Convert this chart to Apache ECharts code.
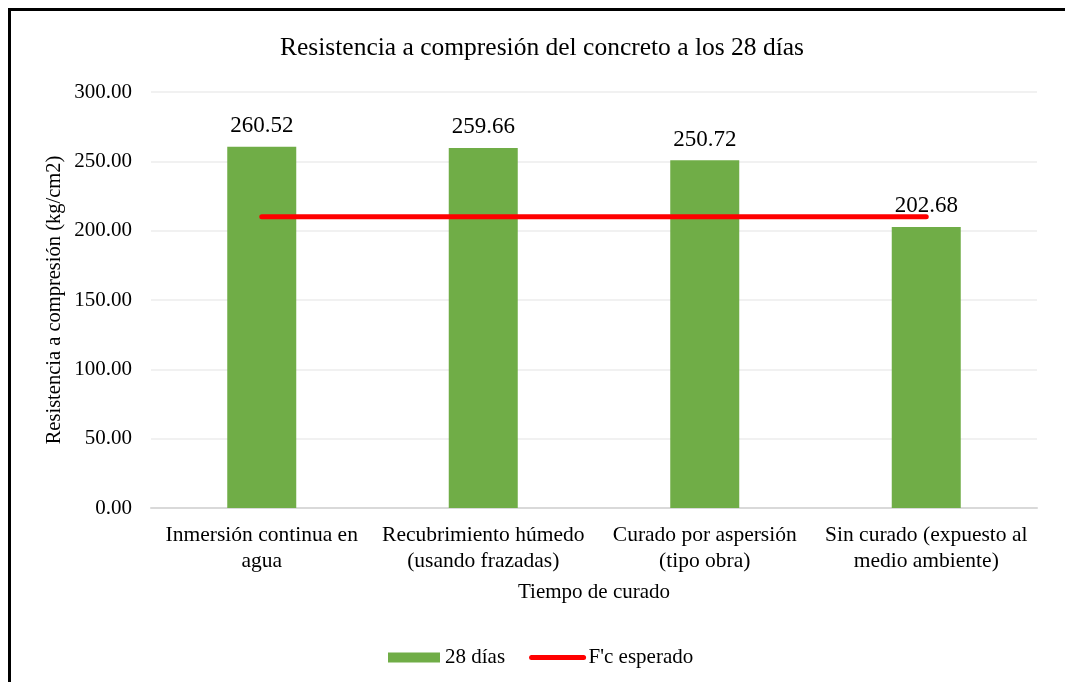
<!DOCTYPE html>
<html>
<head>
<meta charset="utf-8">
<script src="https://cdn.jsdelivr.net/npm/echarts@6/dist/echarts.min.js"></script>
<style>
  html, body { margin: 0; padding: 0; background: #fff; }
  #frame { position: absolute; left: 8px; top: 8px; width: 1060px; height: 700px; border: 3px solid #000; box-sizing: border-box; }
  #chart { position: absolute; left: 0; top: 0; width: 1065px; height: 682px; }
</style>
</head>
<body>
<div id="frame"></div>
<div id="chart"></div>
<script>
// Curing methods (x-axis categories)
const categories = [
  'Inmersión continua en\nagua',
  'Recubrimiento húmedo\n(usando frazadas)',
  'Curado por aspersión\n(tipo obra)',
  'Sin curado (expuesto al\nmedio ambiente)'
];
// Compressive strength at 28 days (kg/cm2)
const strength28 = [260.52, 259.66, 250.72, 202.68];
// Expected design strength f'c (kg/cm2)
const fcExpected = [210, 210, 210, 210];

const serif = '"Liberation Serif", "Times New Roman", serif';
const chart = echarts.init(document.getElementById('chart'), null, { renderer: 'canvas' });

chart.setOption({
  animation: false,
  backgroundColor: 'transparent',
  textStyle: { fontFamily: serif, color: '#000' },
  title: {
    text: 'Resistencia a compresión del concreto a los 28 días',
    left: 537, top: 30, textAlign: 'center',
    textStyle: { fontFamily: serif, fontSize: 25.5, fontWeight: 'normal', color: '#000' }
  },
  grid: { left: 151, right: 28, top: 92, bottom: 174 },
  legend: {
    bottom: 9, left: 383,
    itemWidth: 52, itemHeight: 10, itemGap: 24,
    textStyle: { fontFamily: serif, fontSize: 21, color: '#000' },
    data: [
      { name: '28 días', icon: 'rect' },
      { name: "F'c esperado", itemStyle: { opacity: 0 },
        lineStyle: { width: 5, cap: 'round', color: '#ff0000' } }
    ]
  },
  xAxis: {
    type: 'category',
    data: categories,
    name: 'Tiempo de curado',
    nameLocation: 'middle', nameGap: 74, nameMoveOverlap: false,
    nameTextStyle: { fontFamily: serif, fontSize: 21, color: '#000' },
    axisLine: { lineStyle: { color: '#d9d9d9', width: 2 } },
    axisTick: { show: false },
    axisLabel: { fontFamily: serif, fontSize: 21.5, color: '#000', lineHeight: 26, margin: 14, interval: 0 }
  },
  yAxis: {
    type: 'value',
    min: 0, max: 300, interval: 50,
    name: 'Resistencia a compresión (kg/cm2)',
    nameLocation: 'middle', nameGap: 86, nameRotate: 90, nameMoveOverlap: false,
    nameTextStyle: { fontFamily: serif, fontSize: 20.5, color: '#000' },
    axisLine: { show: false },
    axisTick: { show: false },
    axisLabel: { fontFamily: serif, fontSize: 21, color: '#000', margin: 19,
      formatter: v => v.toFixed(2) },
    splitLine: { lineStyle: { color: '#ececec', width: 1.5 } }
  },
  series: [
    {
      name: '28 días',
      type: 'bar',
      data: strength28,
      barWidth: 69,
      itemStyle: { color: '#70ad47' },
      label: {
        show: true, position: 'top', distance: 9,
        fontFamily: serif, fontSize: 23, color: '#000',
        formatter: p => p.value.toFixed(2)
      },
      z: 2
    },
    {
      name: "F'c esperado",
      type: 'line',
      data: fcExpected,
      symbol: 'none',
      lineStyle: { color: '#ff0000', width: 5, cap: 'round' },
      itemStyle: { color: '#ff0000' },
      z: 3
    }
  ]
});
</script>
</body>
</html>
